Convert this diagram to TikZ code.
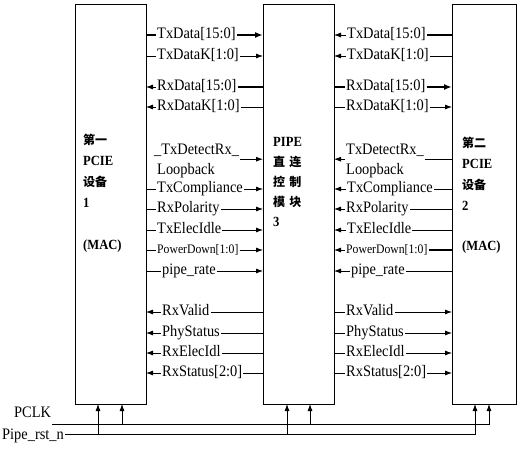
\documentclass[tikz,border=0pt]{standalone}
\usepackage{fontspec}
\setmainfont{Liberation Serif}[FakeStretch=0.9]
\newfontfamily\cjk{Noto Sans CJK SC}[Scale=0.86]
\usetikzlibrary{arrows.meta}

\tikzset{
    blk/.style={draw, line width=0.8pt, minimum width=71pt, minimum height=400pt,
        outer sep=0pt, inner sep=0pt},
    boxtxt/.style={anchor=north west, align=left, inner sep=0pt,
        font=\fontsize{14}{21}\selectfont\bfseries},
    lab/.style={anchor=west, inner sep=1pt, text height=10.5pt, text depth=3.5pt,
        font=\fontsize{16}{18}\selectfont},
    labs/.style={lab, font=\fontsize{13}{15}\selectfont},
    pl/.style={line width=0.8pt},
    plb/.style={line width=1.8pt},
    fw/.style={pl, -{Latex[length=7pt,width=5pt]}},
    bw/.style={pl, {Latex[length=7pt,width=5pt]}-},
    fwb/.style={plb, -{Latex[length=8pt,width=6pt]}},
}

\begin{document}
\begin{tikzpicture}[x=1pt, y=-1pt]
        \useasboundingbox (0,0) rectangle (525,450);

        % -- the three blocks ----------------------------------------------------
        \node[blk] (mac1) at (110.5,204) {};
        \node[blk] (pipe) at (298.5,204) {};
        \node[blk, minimum width=64pt] (mac2) at (484,204) {};

        \node[boxtxt] (ttl1) at (83,134) {{\cjk 第一}\\PCIE\\{\cjk 设备}\\1\\[21pt](MAC)};
        \node[boxtxt, font=\fontsize{14}{20}\selectfont\bfseries] (ttl3) at (273,137)
            {PIPE\\{\cjk 直\,\,连}\\{\cjk 控\,\,制}\\{\cjk 模\,\,块}\\3};
        \node[boxtxt] (ttl2) at (462,137) {{\cjk 第二}\\PCIE\\{\cjk 设备}\\2\\[19pt](MAC)};

        % -- signals between device 1 and PIPE ------------------------------------
        \foreach \n/\y/\x/\sa/\sb/\fs/\txt in {
            1/35/156/plb/fwb/lab/{TxData[15:0]},
            2/56/156/pl/fw/lab/{TxDataK[1:0]},
            3/87/156/bw/plb/lab/{RxData[15:0]},
            4/107/156/bw/pl/lab/{RxDataK[1:0]},
            5/189/156/pl/fw/lab/{TxCompliance},
            6/209/156/pl/fw/lab/{RxPolarity},
            7/230/156/pl/fw/lab/{TxElecIdle},
            8/250/156/pl/fw/labs/{PowerDown[1:0]},
            9/271/161/pl/fw/lab/{pipe\_rate},
            10/312/161/bw/pl/lab/{RxValid},
            11/333/161/bw/pl/lab/{PhyStatus},
            12/353/161/bw/pl/lab/{RxElecIdl},
            13/373/161/bw/pl/lab/{RxStatus[2:0]}} {
            \node[\fs] (l\n) at (\x,\y) {\txt};
            \draw[\sa] (mac1.east |- l\n) -- (l\n.west);
            \draw[\sb] (l\n.east) -- (pipe.west |- l\n);
        }
        \node[lab] (ltd) at (153,151) {\_TxDetectRx\_};
        \node[lab] (llb) at (156,171) {Loopback};
        \draw[fw] (ltd.south east) -- (pipe.west |- ltd.south);

        % -- signals between PIPE and device 2 ------------------------------------
        \foreach \n/\y/\x/\sa/\sb/\fs/\txt in {
            1/35/346/bw/plb/lab/{TxData[15:0]},
            2/56/346/bw/pl/lab/{TxDataK[1:0]},
            3/87/345/plb/fwb/lab/{RxData[15:0]},
            4/107/345/pl/fw/lab/{RxDataK[1:0]},
            5/189/346/bw/pl/lab/{TxCompliance},
            6/209/345/bw/pl/lab/{RxPolarity},
            7/230/346/bw/pl/lab/{TxElecIdle},
            8/250/345/bw/plb/labs/{PowerDown[1:0]},
            9/271/350/bw/pl/lab/{pipe\_rate},
            10/312/345/pl/fw/lab/{RxValid},
            11/333/345/pl/fw/lab/{PhyStatus},
            12/353/345/pl/fw/lab/{RxElecIdl},
            13/373/345/pl/fw/lab/{RxStatus[2:0]}} {
            \node[\fs] (r\n) at (\x,\y) {\txt};
            \draw[\sa] (pipe.east |- r\n) -- (r\n.west);
            \draw[\sb] (r\n.east) -- (mac2.west |- r\n);
        }
        \node[lab] (rtd) at (345,151) {TxDetectRx\_};
        \node[lab] (rlb) at (345,171) {Loopback};
        \draw[bw] (pipe.east |- rtd.south) -- (rtd.south west);
        \draw[pl] (rtd.south east) -- (mac2.west |- rtd.south);

        % -- clock and reset ------------------------------------------------------
        \node[lab] (pclk) at (13,414) {PCLK};
        \node[lab] (rst) at (1,436) {Pipe\_rst\_n};
        \coordinate (ck1) at (122,424);
        \coordinate (ck2) at (310,424);
        \coordinate (ck3) at (489,424);
        \coordinate (rs1) at (98,434);
        \coordinate (rs2) at (287,434);
        \coordinate (rs3) at (475,434);
        \draw[fw] (pclk.south east |- ck1) -- (ck3) -- (ck3 |- mac2.south);
        \draw[fw] (rst.east |- rs1) -- (rs3) -- (rs3 |- mac2.south);
        \foreach \c/\b in {ck1/mac1, ck2/pipe, rs1/mac1, rs2/pipe} {
            \draw[fw] (\c) -- (\c |- \b.south);
        }
    \end{tikzpicture}
\end{document}
